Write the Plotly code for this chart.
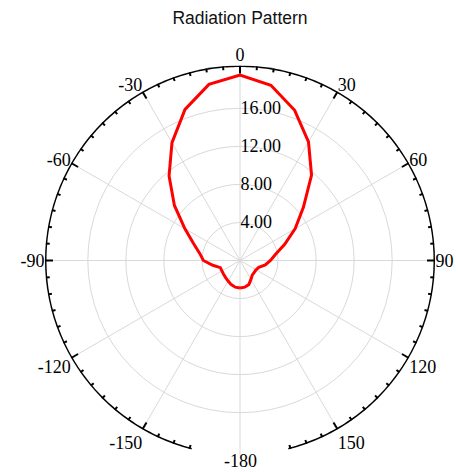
import numpy as np
import plotly.graph_objects as go

# Measured gain pattern (angle in degrees, gain in dB-scale units)
angles = [-180, -170, -160, -150, -140, -130, -120, -110, -100, -90, -80, -70, -60,
          -50, -40, -30, -20, -10, 0, 10, 20, 30, 40, 50, 60, 70, 80, 90, 100,
          110, 120, 130, 140, 150, 160, 170, 180]
gain = [2.9, 2.85, 2.7, 2.5, 2.35, 2.25, 2.2, 2.2, 2.9, 3.85, 4.3, 5.2, 6.7,
        9.0, 11.6, 14.3, 16.9, 18.8, 19.5, 18.7, 16.8, 14.4, 11.7, 8.7, 6.7, 5.0, 3.8, 3.2, 2.7,
        2.1, 1.95, 1.95, 2.0, 2.3, 2.7, 2.85, 2.9]

# Axis settings
R_MAX = 20.5
radial_ticks = [4, 8, 12, 16]
angle_ticks = [0, 30, 60, 90, 120, 150, 180, 210, 240, 270, 300, 330]
angle_labels = ["0", "30", "60", "90", "120", "150", "", "-150", "-120", "-90", "-60", "-30"]
bottom_label = "-180"

# Outer frame is cut off near the bottom of the page
FRAME_LIMIT = 165.6
PX_PER_UNIT = 195 / R_MAX
MAJOR_LEN = 8 / PX_PER_UNIT
MINOR_LEN = 4 / PX_PER_UNIT

fig = go.Figure()

fig.add_trace(go.Scatterpolar(
    r=gain, theta=angles, mode="lines",
    line=dict(color="#ff0000", width=3),
    showlegend=False, hoverinfo="skip",
))

# frame arc
arc_theta = np.linspace(-FRAME_LIMIT, FRAME_LIMIT, 400)
fig.add_trace(go.Scatterpolar(
    r=np.full_like(arc_theta, R_MAX), theta=arc_theta, mode="lines",
    line=dict(color="black", width=3), cliponaxis=False,
    showlegend=False, hoverinfo="skip",
))

# inward tick marks every 5 degrees, longer every 30
tr, tt = [], []
for a in range(-180, 180, 5):
    if abs(a) > FRAME_LIMIT:
        continue
    ln = MAJOR_LEN if a % 30 == 0 else MINOR_LEN
    tr += [R_MAX, R_MAX - ln, None]
    tt += [a, a, None]
fig.add_trace(go.Scatterpolar(
    r=tr, theta=tt, mode="lines",
    line=dict(color="black", width=2), cliponaxis=False,
    showlegend=False, hoverinfo="skip",
))

W, H = 458, 472
cx, cy, rad = 240, 260.5, 195
serif = dict(family="Liberation Serif, Times New Roman", size=18, color="black")
fig.update_layout(
    width=W, height=H,
    margin=dict(l=0, r=0, t=0, b=0),
    paper_bgcolor="white",
    title=dict(text="Radiation Pattern", x=cx / W, xanchor="center",
               y=1 - 18 / H, yanchor="middle",
               font=dict(family="Liberation Sans, Arial", size=17.5, color="#111")),
    polar=dict(
        domain=dict(x=[(cx - rad) / W, (cx + rad) / W],
                    y=[(H - cy - rad) / H, (H - cy + rad) / H]),
        bgcolor="white",
        angularaxis=dict(
            direction="clockwise", rotation=90,
            tickmode="array", tickvals=angle_ticks, ticktext=angle_labels,
            ticks="", showline=False,
            showgrid=True, gridcolor="#d9d9d9", gridwidth=1,
            tickfont=serif,
        ),
        radialaxis=dict(
            range=[0, R_MAX], tickmode="array", tickvals=radial_ticks,
            tickformat=".2f", showline=False, ticks="",
            showgrid=True, gridcolor="#d9d9d9", gridwidth=1,
            angle=90, tickangle=90, side="clockwise",
            tickfont=serif,
        ),
    ),
    annotations=[dict(text=bottom_label, x=cx / W, y=1 - 461 / H,
                      xref="paper", yref="paper", showarrow=False,
                      xanchor="center", yanchor="middle", font=serif)],
)

fig.write_html("out.html")
